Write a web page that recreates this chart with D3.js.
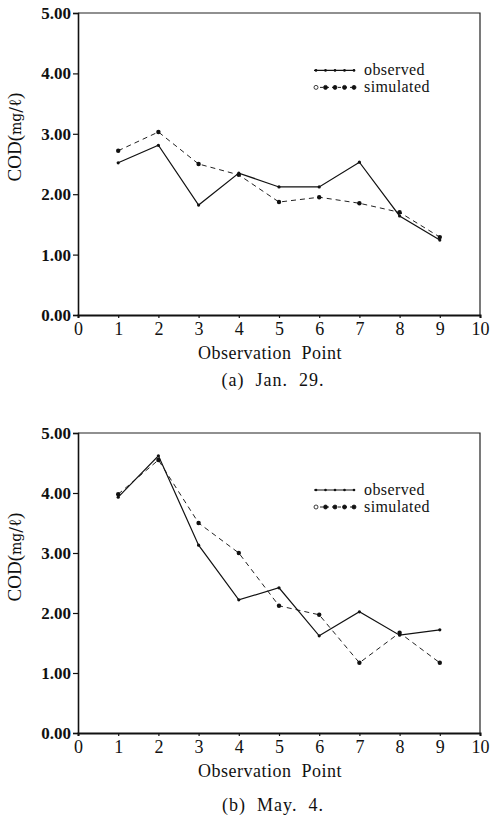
<!DOCTYPE html>
<html>
<head>
<meta charset="utf-8">
<script src="https://cdn.jsdelivr.net/npm/d3@7"></script>
<style>
  html, body { margin: 0; padding: 0; background: #fff; }
  svg { display: block; }
  text { font-family: "Liberation Serif", "DejaVu Serif", serif; fill: #111; }
</style>
</head>
<body>
<svg id="fig" width="493" height="821"></svg>
<script>
// Observation points along the river
const points = [1, 2, 3, 4, 5, 6, 7, 8, 9];
const xTicks = [0, 1, 2, 3, 4, 5, 6, 7, 8, 9, 10];
const yTicks = [0, 1, 2, 3, 4, 5];

// (a) Jan. 29.
const janObserved  = [2.52, 2.81, 1.82, 2.35, 2.12, 2.12, 2.53, 1.64, 1.24];
const janSimulated = [2.72, 3.03, 2.50, 2.32, 1.87, 1.95, 1.85, 1.70, 1.29];

// (b) May. 4.
const mayObserved  = [3.93, 4.62, 3.13, 2.22, 2.42, 1.62, 2.02, 1.63, 1.72];
const maySimulated = [3.98, 4.55, 3.50, 3.00, 2.12, 1.97, 1.17, 1.67, 1.17];

const panels = [
  { caption: "(a)  Jan.  29.", observed: janObserved, simulated: janSimulated,
    top: 13, bottom: 315, captionY: 386 },
  { caption: "(b)  May.  4.", observed: mayObserved, simulated: maySimulated,
    top: 433, bottom: 733, captionY: 811 }
];

const svg = d3.select("#fig");
const left = 78, right = 480;

panels.forEach(p => {
  const g = svg.append("g");
  const x = d3.scaleLinear().domain([0, 10]).range([left, right]);
  const y = d3.scaleLinear().domain([0, 5]).range([p.bottom, p.top]);

  // frame (top and right)
  g.append("path")
    .attr("d", `M${left},${p.top}H${right}V${p.bottom}`)
    .attr("fill", "none").attr("stroke", "#222").attr("stroke-width", 1.2);

  // y axis
  const yAxis = g.append("g").attr("transform", `translate(${left},0)`)
    .call(d3.axisLeft(y).tickValues(yTicks).tickFormat(d3.format(".2f")).tickSize(5).tickPadding(2));
  yAxis.select(".domain").attr("stroke", "#111").attr("stroke-width", 1.6);
  yAxis.selectAll(".tick line").attr("stroke", "#111").attr("stroke-width", 1.2);
  yAxis.selectAll(".tick text")
    .attr("font-family", "Liberation Serif, serif").attr("font-size", 17)
    .attr("font-weight", "bold").attr("fill", "#111");

  // x axis
  const xAxis = g.append("g").attr("transform", `translate(0,${p.bottom})`)
    .call(d3.axisBottom(x).tickValues(xTicks).tickFormat(d3.format("d")).tickSize(3).tickPadding(4));
  xAxis.select(".domain").attr("stroke", "#111").attr("stroke-width", 2);
  xAxis.selectAll(".tick line").attr("stroke", "#111").attr("stroke-width", 1.2);
  xAxis.selectAll(".tick text")
    .attr("font-family", "Liberation Serif, serif").attr("font-size", 18)
    .attr("fill", "#111");

  // axis titles
  g.append("text")
    .attr("x", 270).attr("y", p.bottom + 44)
    .attr("text-anchor", "middle").attr("font-size", 18)
    .attr("letter-spacing", 0.5).style("white-space", "pre")
    .text("Observation  Point");

  const ylab = g.append("text")
    .attr("transform", `translate(21,${p.top + 124}) rotate(-90)`)
    .attr("text-anchor", "middle").attr("font-size", 19);
  ylab.append("tspan").text("COD(");
  ylab.append("tspan").attr("font-size", 14).attr("font-family", "DejaVu Serif, serif").text("mg");
  ylab.append("tspan").attr("font-size", 17).attr("font-family", "DejaVu Serif, serif").text("/ℓ");
  ylab.append("tspan").text(")");

  // caption
  g.append("text")
    .attr("x", 273).attr("y", p.captionY)
    .attr("text-anchor", "middle").attr("font-size", 18)
    .attr("letter-spacing", 1).style("white-space", "pre")
    .text(p.caption);

  const line = d3.line().x((d, i) => x(points[i])).y(d => y(d));

  // simulated (dashed)
  g.append("path").datum(p.simulated).attr("d", line)
    .attr("fill", "none").attr("stroke", "#222").attr("stroke-width", 1)
    .attr("stroke-dasharray", "5,4");
  g.selectAll(".sim").data(p.simulated).join("circle")
    .attr("cx", (d, i) => x(points[i])).attr("cy", d => y(d)).attr("r", 2.2)
    .attr("fill", "#111");

  // observed (solid)
  g.append("path").datum(p.observed).attr("d", line)
    .attr("fill", "none").attr("stroke", "#111").attr("stroke-width", 1.2);
  g.selectAll(".obs").data(p.observed).join("circle")
    .attr("cx", (d, i) => x(points[i])).attr("cy", d => y(d)).attr("r", 1.6)
    .attr("fill", "#111");

  // legend
  const ly = y(4.05);
  const lx0 = 314, lx1 = 355;
  const leg = g.append("g");
  leg.append("line").attr("x1", lx0).attr("x2", lx1).attr("y1", ly).attr("y2", ly)
    .attr("stroke", "#111").attr("stroke-width", 1.2);
  leg.selectAll(".lo").data(d3.range(5)).join("circle")
    .attr("cx", i => lx0 + 2 + i * 9.5).attr("cy", ly).attr("r", 1.3).attr("fill", "#111");
  leg.append("line").attr("x1", lx0).attr("x2", lx1).attr("y1", ly + 17).attr("y2", ly + 17)
    .attr("stroke", "#222").attr("stroke-width", 1).attr("stroke-dasharray", "3,3");
  leg.selectAll(".ls").data(d3.range(5)).join("circle")
    .attr("cx", i => lx0 + 2 + i * 9.5).attr("cy", ly + 17).attr("r", 2)
    .attr("fill", i => i === 0 ? "#fff" : "#111").attr("stroke", "#111").attr("stroke-width", 0.8);
  leg.append("text").attr("x", 364).attr("y", ly + 5).attr("font-size", 16)
    .attr("letter-spacing", 0.4).text("observed");
  leg.append("text").attr("x", 364).attr("y", ly + 22).attr("font-size", 16)
    .attr("letter-spacing", 0.4).text("simulated");
});
</script>
</body>
</html>
